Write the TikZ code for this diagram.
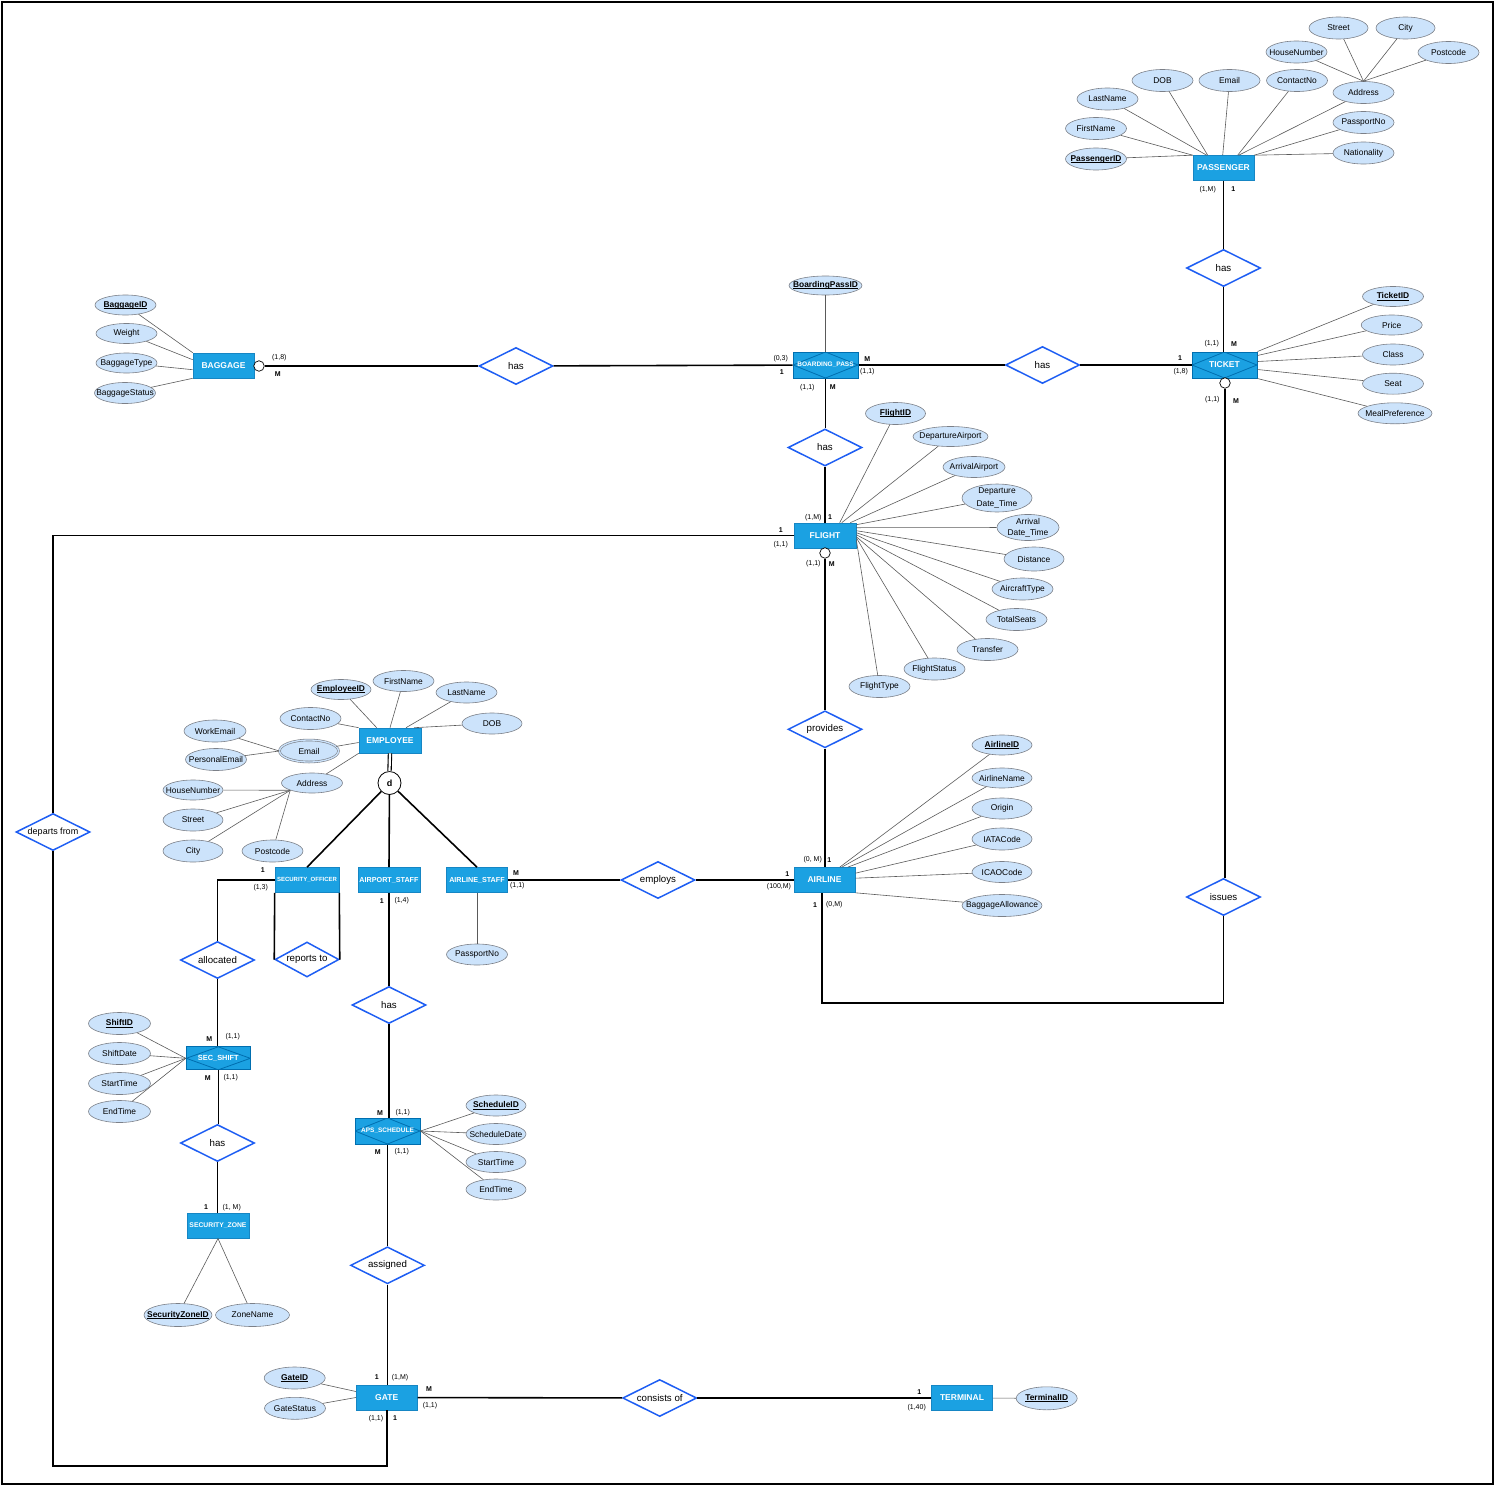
\documentclass[tikz,border=0pt]{standalone}
\usepackage{fontspec}
\setmainfont{Liberation Sans}
\usetikzlibrary{shapes.geometric,calc}
\definecolor{entfill}{HTML}{1BA1E2}
\definecolor{entdraw}{HTML}{1686C4}
\definecolor{assocdraw}{HTML}{006EAF}
\definecolor{attrfill}{HTML}{CCE3FB}
\definecolor{attrdraw}{HTML}{7C8088}
\definecolor{reldraw}{HTML}{1E5EF3}
\definecolor{alinec}{HTML}{5A5A5A}
\newcommand{\zw}[1]{\makebox[0pt]{#1}}
\newcommand{\pk}[1]{\makebox[0pt]{\bfseries\setbox0\hbox{#1}\rlap{\rule[-1.3pt]{\wd0}{0.55pt}}\box0}}
\begin{document}
\begin{tikzpicture}[x=1pt,y=-1pt,
  ent/.style={rectangle, draw=entdraw, fill=entfill, text=white, line width=0.6pt, inner sep=0, minimum width=61, minimum height=25, font=\fontsize{8.5}{9}\selectfont\bfseries},
  assoc/.style={ent, draw=assocdraw, line width=1pt, path picture={\draw[assocdraw, line width=0.8pt] (path picture bounding box.west) -- (path picture bounding box.north) -- (path picture bounding box.east) -- (path picture bounding box.south) -- cycle;}},
  attr/.style={ellipse, draw=attrdraw, fill=attrfill, line width=0.6pt, inner sep=0, minimum width=61, minimum height=21, font=\fontsize{8.4}{10}\selectfont},
  rel/.style={diamond, aspect=2, draw=reldraw, fill=white, line width=1.5pt, inner sep=0, minimum width=74, minimum height=37, font=\fontsize{9.7}{11}\selectfont},
  conn/.style={line width=1.6pt, black},
  aline/.style={line width=0.6pt, alinec},
  card/.style={inner sep=0, font=\fontsize{7}{8}\selectfont},
  cardb/.style={inner sep=0, font=\fontsize{7}{8}\selectfont\bfseries},
  opt/.style={circle, draw=black, fill=white, line width=0.7pt, inner sep=0, minimum size=10.5},
]
\useasboundingbox (0,0) rectangle (1500,1491);
\draw[line width=1.5pt] (2,2) rectangle (1493,1484);

% ---------- entities ----------
\node[ent] (pass) at (1223.5,168) {PASSENGER};
\node[ent] (bag) at (223.5,365.5) {BAGGAGE};
\node[assoc, minimum width=65, minimum height=26, font=\fontsize{6.5}{7}\selectfont\bfseries] (bp) at (825.5,365) {BOARDING\_PASS};
\node[assoc, minimum width=65, minimum height=26] (tkt) at (1224.5,365) {TICKET};
\node[ent, minimum width=62] (fl) at (825,535.5) {FLIGHT};
\node[ent, minimum width=62] (emp) at (390,740.5) {EMPLOYEE};
\node[ent, minimum width=64, font=\fontsize{6}{7}\selectfont\bfseries] (so) at (307,880) {SECURITY\_OFFICER};
\node[ent, minimum width=62, font=\fontsize{7.2}{8}\selectfont\bfseries] (apstaff) at (389,880) {AIRPORT\_STAFF};
\node[ent, minimum width=61, font=\fontsize{7.2}{8}\selectfont\bfseries] (als) at (477,880) {AIRLINE\_STAFF};
\node[ent] (airline) at (824.5,880) {AIRLINE};
\node[assoc, minimum width=64, minimum height=23, font=\fontsize{7.4}{8}\selectfont\bfseries] (ss) at (218.3,1058.3) {SEC\_SHIFT};
\node[assoc, minimum width=65, minimum height=26, font=\fontsize{6.5}{7}\selectfont\bfseries] (aps) at (387.5,1131) {APS\_SCHEDULE};
\node[ent, minimum width=62, font=\fontsize{6.8}{7}\selectfont\bfseries] (sz) at (218,1225.7) {SECURITY\_ZONE};
\node[ent] (gate) at (386.7,1397.5) {GATE};
\node[ent] (term) at (962,1398) {TERMINAL};

% ---------- relationships ----------
\node[rel] (hasP) at (1223.5,268) {has};
\node[rel] (hasB) at (516,366) {has};
\node[rel] (hasT) at (1042.5,365) {has};
\node[rel] (hasF) at (825,447.5) {has};
\node[rel] (prov) at (825,729.3) {provides};
\node[rel] (empl) at (658,880) {employs};
\node[rel] (iss) at (1223.5,897) {issues};
\node[rel, font=\fontsize{9}{10}\selectfont] (dep) at (53,832) {departs from};
\node[rel] (alloc) at (217.5,960) {allocated};
\node[rel, minimum width=64, minimum height=35] (rep) at (307,959.5) {reports to};
\node[rel] (hasA) at (389,1005) {has};
\node[rel] (hasS) at (217.5,1143) {has};
\node[rel] (asg) at (387.5,1265.3) {assigned};
\node[rel] (cons) at (659.7,1398) {consists of};

% ---------- optional / disjoint circles ----------
\node[opt] (optB) at (259,366) {};
\node[opt] (optT) at (1225,383) {};
\node[opt] (optF) at (825,553) {};
\node[circle, draw=black, fill=white, line width=0.8pt, minimum size=23, inner sep=0, font=\fontsize{9}{10}\selectfont\bfseries] (dsj) at (389.5,783) {d};

% ---------- passenger attributes ----------
\node[attr, minimum width=59, minimum height=22] (pStreet) at (1338.5,28) {\zw{Street}};
\node[attr, minimum width=59, minimum height=22] (pCity) at (1405.5,28) {\zw{City}};
\node[attr, minimum height=22] (pHouse) at (1296.5,52) {\zw{HouseNumber}};
\node[attr, minimum height=22] (pPost) at (1448.5,52.5) {\zw{Postcode}};
\node[attr, minimum height=22] (pAddr) at (1363.5,92.5) {\zw{Address}};
\node[attr, minimum height=22] (pDOB) at (1162.5,80.5) {\zw{DOB}};
\node[attr, minimum height=22] (pEmail) at (1229.5,80.5) {\zw{Email}};
\node[attr, minimum height=22] (pContact) at (1297,80.5) {\zw{ContactNo}};
\node[attr, minimum height=22] (pLast) at (1107.5,99) {\zw{LastName}};
\node[attr, minimum height=22] (pFirst) at (1096,128.5) {\zw{FirstName}};
\node[attr, minimum height=22] (pID) at (1096,159) {\pk{PassengerID}};
\node[attr, minimum height=22] (pPass) at (1363.5,122.5) {\zw{PassportNo}};
\node[attr, minimum height=22] (pNat) at (1363.5,153) {\zw{Nationality}};
\draw[aline] (pID) -- (pass.north west);
\draw[aline] (pFirst) -- (pass.north west);
\draw[aline] (pLast) -- ($(pass.north west)+(14,0)$);
\draw[aline] (pDOB) -- ($(pass.north west)+(15,0)$);
\draw[aline] (pEmail) -- ($(pass.north west)+(30,0)$);
\draw[aline] (pContact) -- ($(pass.north west)+(45,0)$);
\draw[aline] (pAddr) -- ($(pass.north west)+(46,0)$);
\draw[aline] (pPass) -- (pass.north east);
\draw[aline] (pNat) -- (pass.north east);
\draw[aline] (pStreet) -- (pAddr.north);
\draw[aline] (pCity) -- (pAddr.north);
\draw[aline] (pHouse) -- (pAddr.north);
\draw[aline] (pPost) -- (pAddr.north);

% ---------- baggage attributes ----------
\node[attr, minimum height=20] (bID) at (125.5,305) {\pk{BaggageID}};
\node[attr, minimum height=20] (bW) at (126.5,333.5) {\zw{Weight}};
\node[attr, minimum height=20] (bT) at (126.5,363) {\zw{BaggageType}};
\node[attr, minimum height=21] (bS) at (125,393) {\zw{BaggageStatus}};
\draw[aline] (bID) -- (bag.north west);
\draw[aline] (bW) -- ($(bag.north west)+(0,7)$);
\draw[aline] (bT) -- ($(bag.north west)+(0,17)$);
\draw[aline] (bS) -- (bag.south west);

% ---------- boarding pass ----------
\node[attr, minimum width=73, minimum height=19] (bpID) at (825.5,285.5) {\pk{BoardingPassID}};
\draw[aline] (bpID) -- (bp);

% ---------- ticket attributes ----------
\node[attr, minimum height=20] (tID) at (1393,296.5) {\pk{TicketID}};
\node[attr, minimum height=20] (tPrice) at (1391.7,325) {\zw{Price}};
\node[attr, minimum height=21] (tClass) at (1393,354.5) {\zw{Class}};
\node[attr, minimum height=21] (tSeat) at (1393,383.7) {\zw{Seat}};
\node[attr, minimum width=74, minimum height=21] (tMeal) at (1395,413.3) {\zw{MealPreference}};
\draw[aline] (tID) -- (tkt.north east);
\draw[aline] (tPrice) -- ($(tkt.north east)+(0,4)$);
\draw[aline] (tClass) -- ($(tkt.north east)+(0,10)$);
\draw[aline] (tSeat) -- ($(tkt.north east)+(0,18)$);
\draw[aline] (tMeal) -- (tkt.south east);

% ---------- flight attributes ----------
\node[attr, minimum width=60, minimum height=22] (fID) at (895.5,413.5) {\pk{FlightID}};
\node[attr, minimum width=75, minimum height=20] (fDep) at (950.5,436.5) {\zw{DepartureAirport}};
\node[attr, minimum width=62, minimum height=21] (fArr) at (974,467) {\zw{ArrivalAirport}};
\node[attr, minimum width=70, minimum height=24] (fDD) at (997,498) {\zw{\shortstack{Departure\\[1.5pt]Date\_Time}}};
\node[attr, minimum width=62, minimum height=25] (fAD) at (1028,527.5) {\zw{\shortstack{Arrival\\[1.5pt]Date\_Time}}};
\node[attr, minimum width=60, minimum height=24] (fDist) at (1034,559) {\zw{Distance}};
\node[attr, minimum height=22] (fAT) at (1022.5,589) {\zw{AircraftType}};
\node[attr, minimum height=22] (fTS) at (1016.5,619.5) {\zw{TotalSeats}};
\node[attr, minimum height=22] (fTr) at (987.5,649.5) {\zw{Transfer}};
\node[attr, minimum height=22] (fSt) at (934.5,669) {\zw{FlightStatus}};
\node[attr, minimum height=22] (fTy) at (879.5,686.5) {\zw{FlightType}};
\draw[aline] (fID) -- ($(fl.north west)+(46,0)$);
\draw[aline] (fDep) -- ($(fl.north west)+(48,0)$);
\draw[aline] (fArr) -- ($(fl.north east)+(-6,0)$);
\draw[aline] (fDD) -- ($(fl.north east)+(0,2)$);
\draw[aline] (fAD) -- ($(fl.north east)+(0,5)$);
\draw[aline] (fDist) -- ($(fl.north east)+(0,8)$);
\draw[aline] (fAT) -- ($(fl.north east)+(0,10)$);
\draw[aline] (fTS) -- ($(fl.north east)+(0,12)$);
\draw[aline] (fTr) -- ($(fl.north east)+(0,14)$);
\draw[aline] (fSt) -- ($(fl.north east)+(0,15)$);
\draw[aline] (fTy) -- ($(fl.north east)+(0,17)$);

% ---------- employee attributes ----------
\node[attr, minimum width=60, minimum height=20] (eID) at (341,689.5) {\pk{EmployeeID}};
\node[attr] (eFirst) at (403.5,681) {\zw{FirstName}};
\node[attr] (eLast) at (466.5,692.5) {\zw{LastName}};
\node[attr, minimum width=60] (eDOB) at (492,723.5) {\zw{DOB}};
\node[attr, minimum height=22] (eContact) at (310.5,718.5) {\zw{ContactNo}};
\node[attr, minimum width=59, minimum height=22, double=attrfill, double distance=1.3pt] (eEmail) at (309,751) {\zw{Email}};
\node[attr, minimum width=62, minimum height=22] (eWork) at (215,731) {\zw{WorkEmail}};
\node[attr, minimum height=22] (ePers) at (216,759.5) {\zw{PersonalEmail}};
\node[attr, minimum height=20] (eAddr) at (312,783) {\zw{Address}};
\node[attr, minimum width=60, minimum height=20] (eHouse) at (193,790) {\zw{HouseNumber}};
\node[attr, minimum width=60, minimum height=22] (eStreet) at (193,820) {\zw{Street}};
\node[attr, minimum width=60, minimum height=22] (eCity) at (193,851) {\zw{City}};
\node[attr, minimum height=22] (ePost) at (272.5,851) {\zw{Postcode}};
\draw[aline] (eID) -- ($(emp.north west)+(18,0)$);
\draw[aline] (eFirst) -- (emp.north);
\draw[aline] (eLast) -- ($(emp.north)+(16,0)$);
\draw[aline] (eDOB) -- ($(emp.north)+(24,0)$);
\draw[aline] (eContact) -- (emp.north west);
\draw[aline] (eEmail) -- ($(emp.west)+(0,2)$);
\draw[aline] (eAddr) -- (emp.south west);
\draw[aline] (eWork) -- (eEmail.west);
\draw[aline] (ePers) -- (eEmail.west);
\draw[aline] (eHouse) -- (eAddr.south west);
\draw[aline] (eStreet) -- (eAddr.south west);
\draw[aline] (eCity) -- (eAddr.south west);
\draw[aline] (ePost) -- (eAddr.south west);

% ---------- airline staff ----------
\node[attr] (asPass) at (477,954.5) {\zw{PassportNo}};
\draw[aline] (als) -- (asPass);

% ---------- airline attributes ----------
\node[attr, minimum width=60, minimum height=20] (aID) at (1002,745) {\pk{AirlineID}};
\node[attr, minimum width=60, minimum height=20] (aName) at (1002,778) {\zw{AirlineName}};
\node[attr, minimum width=60] (aOrig) at (1002,808.5) {\zw{Origin}};
\node[attr, minimum width=60, minimum height=22] (aIATA) at (1002,839) {\zw{IATACode}};
\node[attr, minimum width=60] (aICAO) at (1002,872) {\zw{ICAOCode}};
\node[attr, minimum width=80, minimum height=22] (aBag) at (1002,905.5) {\zw{BaggageAllowance}};
\draw[aline] (aID) -- ($(airline.north west)+(46,0)$);
\draw[aline] (aName) -- ($(airline.north west)+(48,0)$);
\draw[aline] (aOrig) -- ($(airline.north west)+(54,0)$);
\draw[aline] (aIATA) -- ($(airline.north east)+(0,6)$);
\draw[aline] (aICAO) -- ($(airline.north east)+(0,11)$);
\draw[aline] (aBag) -- (airline.south east);

% ---------- sec shift attributes ----------
\node[attr, minimum width=62, minimum height=22] (ssID) at (119.5,1023.5) {\pk{ShiftID}};
\node[attr, minimum width=62, minimum height=22] (ssDate) at (119.5,1053.5) {\zw{ShiftDate}};
\node[attr, minimum width=62, minimum height=22] (ssStart) at (119.5,1083.5) {\zw{StartTime}};
\node[attr, minimum width=62, minimum height=22] (ssEnd) at (119.5,1111.5) {\zw{EndTime}};
\draw[aline] (ssID) -- (ss.west);
\draw[aline] (ssDate) -- (ss.west);
\draw[aline] (ssStart) -- (ss.west);
\draw[aline] (ssEnd) -- (ss.west);

% ---------- schedule attributes ----------
\node[attr, minimum width=60] (apsID) at (496,1105.5) {\pk{ScheduleID}};
\node[attr, minimum width=60] (apsDate) at (496,1134) {\zw{ScheduleDate}};
\node[attr, minimum width=60] (apsStart) at (496,1162) {\zw{StartTime}};
\node[attr, minimum width=60] (apsEnd) at (496,1189.5) {\zw{EndTime}};
\draw[aline] (apsID) -- (aps.east);
\draw[aline] (apsDate) -- (aps.east);
\draw[aline] (apsStart) -- (aps.east);
\draw[aline] (apsEnd) -- (aps.east);

% ---------- security zone attributes ----------
\node[attr, minimum width=68, minimum height=23] (szID) at (178,1315) {\pk{SecurityZoneID}};
\node[attr, minimum width=74, minimum height=23] (szName) at (252.5,1315) {\zw{ZoneName}};
\draw[aline] (szID) -- (sz.south);
\draw[aline] (szName) -- (sz.south);

% ---------- gate / terminal attributes ----------
\node[attr, minimum height=22] (gID) at (294.7,1378) {\pk{GateID}};
\node[attr, minimum height=22] (gSt) at (295,1408.3) {\zw{GateStatus}};
\draw[aline] (gID) -- ($(gate.west)+(0,-6)$);
\draw[aline] (gSt) -- (gate.west);
\node[attr, minimum height=23] (tmID) at (1046.7,1398.3) {\pk{TerminalID}};
\draw[aline] (term) -- (tmID);

% ---------- connectors ----------
\draw[conn] (pass.south) -- (pass.south |- hasP.north);
\draw[conn] (hasP.south) -- (hasP.south |- tkt.north);
\draw[conn] (optB) -- (hasB);
\draw[conn] (hasB) -- (bp);
\draw[conn] (bp) -- (hasT);
\draw[conn] (hasT) -- (tkt);
\draw[conn] (bp.south) -- (bp.south |- hasF.north);
\draw[conn] (hasF.south) -- (hasF.south |- fl.north);
\draw[conn] (optF.south) -- (optF.south |- prov.north);
\draw[conn] (prov.south) -- (prov.south |- airline.north);
\draw[conn] (fl.west) -| (dep.north);
\coordinate (dc) at (386.7,1466);
\draw[conn] (dep.south) |- (dc) -- (gate.south);
\draw[conn] (optT.south) -- (optT.south |- iss.north);
\coordinate (ic1) at (1223.5,1003);
\coordinate (ic2) at (822,1003);
\draw[conn] (iss.south) -- (ic1) -- (ic2) -- (ic2 |- airline.south);
\draw[conn] (airline) -- (empl);
\draw[conn] (empl) -- (als);
\draw[line width=1.1pt, double=white, double distance=2.2pt] (emp.south) -- (dsj.north);
\draw[conn] (dsj) -- (so.north);
\draw[conn] (dsj) -- (apstaff.north);
\draw[conn] (dsj) -- (als.north);
\draw[conn] (so.west) -| (alloc.north);
\draw[conn] (so.south west) -- (rep.west);
\draw[conn] (so.south east) -- (rep.east);
\draw[conn] (alloc.south) -- (alloc.south |- ss.north);
\draw[conn] (ss.south) -- (ss.south |- hasS.north);
\draw[conn] (hasS.south) -- (hasS.south |- sz.north);
\draw[conn] (apstaff.south) -- (apstaff.south |- hasA.north);
\draw[conn] (hasA.south) -- (hasA.south |- aps.north);
\draw[conn] (aps.south) -- (aps.south |- asg.north);
\draw[conn] (asg.south) -- (asg.south |- gate.north);
\draw[conn] (gate) -- (cons);
\draw[conn] (cons) -- (term);

% ---------- cardinalities ----------
\node[card] (k1) at (1207.7,189.3) {(1,M)};
\node[cardb] (k2) at (1233.3,189.3) {1};
\node[card] (k3) at (1211.7,344) {(1,1)};
\node[cardb] (k4) at (1234,344) {M};
\node[card] (k5) at (279.3,357.3) {(1,8)};
\node[cardb] (k6) at (277.7,374.3) {M};
\node[card] (k7) at (780.7,358.3) {(0,3)};
\node[cardb] (k8) at (781.7,371.7) {1};
\node[cardb] (k9) at (867.3,359.3) {M};
\node[card] (k10) at (867.3,371.7) {(1,1)};
\node[cardb] (k11) at (1180,358.3) {1};
\node[card] (k12) at (1180.7,371.7) {(1,8)};
\node[card] (k13) at (807.3,387.3) {(1,1)};
\node[cardb] (k14) at (832.7,387.3) {M};
\node[card] (k15) at (813.3,517.3) {(1,M)};
\node[cardb] (k16) at (830,517.3) {1};
\node[cardb] (k17) at (780.7,530) {1};
\node[card] (k18) at (780.7,544.3) {(1,1)};
\node[card] (k19) at (813.3,564) {(1,1)};
\node[cardb] (k20) at (831.7,564) {M};
\node[card] (k21) at (1212.3,399.3) {(1,1)};
\node[cardb] (k22) at (1236,401) {M};
\node[card] (k23) at (812.7,860) {(0, M)};
\node[cardb] (k24) at (829.3,860) {1};
\node[cardb] (k25) at (787.3,874) {1};
\node[card] (k26) at (779,886.7) {(100,M)};
\node[cardb] (k27) at (815,905) {1};
\node[card] (k28) at (834.3,905) {(0,M)};
\node[cardb] (k29) at (516,872.7) {M};
\node[card] (k30) at (517.3,886) {(1,1)};
\node[cardb] (k31) at (262.7,870) {1};
\node[card] (k32) at (260.7,887.3) {(1,3)};
\node[cardb] (k33) at (381.7,900.7) {1};
\node[card] (k34) at (401.7,900.7) {(1,4)};
\node[cardb] (k35) at (209.3,1039.3) {M};
\node[card] (k36) at (232.7,1036.7) {(1,1)};
\node[cardb] (k37) at (207.7,1077.7) {M};
\node[card] (k38) at (230.7,1077.7) {(1,1)};
\node[cardb] (k39) at (206,1207.3) {1};
\node[card] (k40) at (231.7,1207.3) {(1, M)};
\node[cardb] (k41) at (380,1112.7) {M};
\node[card] (k42) at (402.7,1112.7) {(1,1)};
\node[cardb] (k43) at (377.7,1151.7) {M};
\node[card] (k44) at (401.7,1151.7) {(1,1)};
\node[cardb] (k45) at (376.7,1377.3) {1};
\node[card] (k46) at (400,1377.3) {(1,M)};
\node[cardb] (k47) at (429,1389.3) {M};
\node[card] (k48) at (430,1405.7) {(1,1)};
\node[card] (k49) at (376,1418.3) {(1,1)};
\node[cardb] (k50) at (395,1418.3) {1};
\node[cardb] (k51) at (919.3,1391.7) {1};
\node[card] (k52) at (916.7,1407.3) {(1,40)};
\end{tikzpicture}
\end{document}
